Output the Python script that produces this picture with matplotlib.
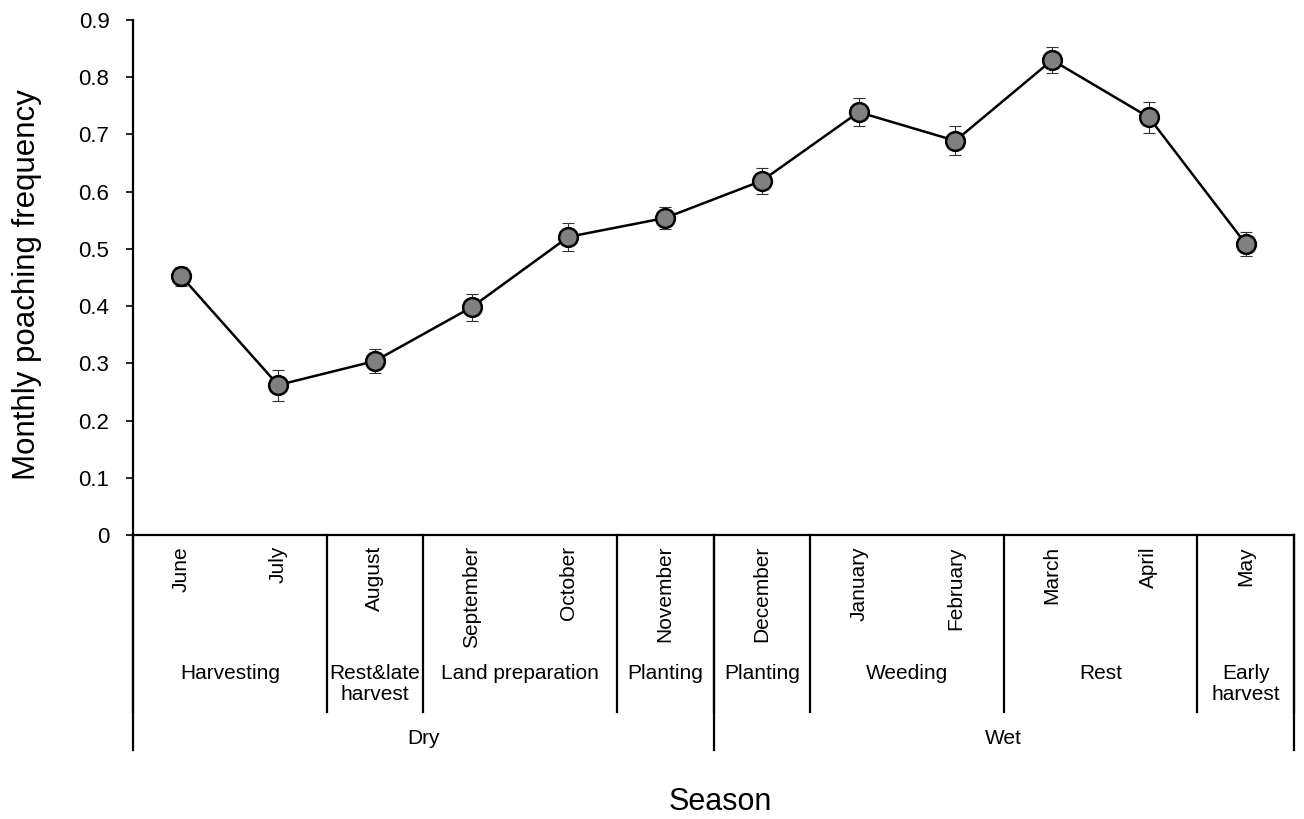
import matplotlib
matplotlib.use('Agg')
import matplotlib.pyplot as plt

plt.rcParams['font.family'] = ['Liberation Sans', 'DejaVu Sans']

# Data
months = ['June', 'July', 'August', 'September', 'October', 'November',
          'December', 'January', 'February', 'March', 'April', 'May']
freq = [0.452, 0.262, 0.304, 0.398, 0.521, 0.554,
        0.619, 0.739, 0.689, 0.830, 0.730, 0.509]
err = [0.017, 0.027, 0.021, 0.024, 0.025, 0.019,
       0.023, 0.025, 0.025, 0.023, 0.027, 0.021]

# Activity groups: (label, number of months)
phases = ['Harvesting', 'Rest&late\nharvest', 'Land preparation', 'Planting',
          'Planting', 'Weeding', 'Rest', 'Early\nharvest']
phase_sizes = [2, 1, 2, 1, 1, 2, 2, 1]
seasons = ['Dry', 'Wet']
season_sizes = [6, 6]

y_ticks = [0, 0.1, 0.2, 0.3, 0.4, 0.5, 0.6, 0.7, 0.8, 0.9]
y_tick_labels = ['0', '0.1', '0.2', '0.3', '0.4', '0.5', '0.6', '0.7', '0.8', '0.9']

fig = plt.figure(figsize=(13.04, 8.19), dpi=100)
ax = fig.add_axes([133 / 1304, 1 - 535 / 819, (1294 - 133) / 1304, 515 / 819])

x = [i + 0.5 for i in range(len(months))]
ax.errorbar(x, freq, yerr=err, fmt='none', ecolor='#333333', elinewidth=0.8,
            capsize=4.3, capthick=0.8, zorder=2)
ax.plot(x, freq, color='black', linewidth=1.8, marker='o', markersize=13.5,
        markerfacecolor='#808080', markeredgecolor='black', markeredgewidth=1.8,
        zorder=3)

ax.set_xlim(0, 12)
ax.set_ylim(0, 0.9)
ax.set_yticks(y_ticks)
ax.set_yticklabels(y_tick_labels, fontsize=16)
ax.tick_params(axis='y', direction='out', length=5, width=1.2, pad=12)
ax.set_xticks([])

for s in ['top', 'right']:
    ax.spines[s].set_visible(False)
for s in ['left', 'bottom']:
    ax.spines[s].set_linewidth(1.6)

tr = ax.get_xaxis_transform()
px = 1 / 515  # one pixel in axes height units

# month labels, rotated
for xi, m in zip(x, months):
    ax.text(xi, -11 * px, m, rotation=90, ha='center', va='top',
            fontsize=15, transform=tr)

# phase separators and labels
pos = 0
bounds = [0]
for lab, n in zip(phases, phase_sizes):
    ax.text(pos + n / 2, -(664 - 535) * px, lab, ha='center', va='top',
            fontsize=15, linespacing=1.1, transform=tr)
    pos += n
    bounds.append(pos)
for b in bounds:
    ax.plot([b, b], [0, -(712 - 535) * px], color='black', linewidth=1.6,
            transform=tr, clip_on=False)

# season separators and labels
pos = 0
sb = [0]
for lab, n in zip(seasons, season_sizes):
    ax.text(pos + n / 2, -(738 - 535) * px, lab, ha='center', va='center',
            fontsize=15, transform=tr)
    pos += n
    sb.append(pos)
for b in sb:
    ax.plot([b, b], [0, -(750 - 535) * px], color='black', linewidth=1.6,
            transform=tr, clip_on=False)

fig.text(720 / 1304, 1 - 802 / 819, 'Season', ha='center', va='center', fontsize=22)
fig.text(27 / 1304, 1 - 285 / 819, 'Monthly poaching frequency', rotation=90,
         ha='center', va='center', fontsize=22.5)

fig.savefig('out.png', dpi=100)
